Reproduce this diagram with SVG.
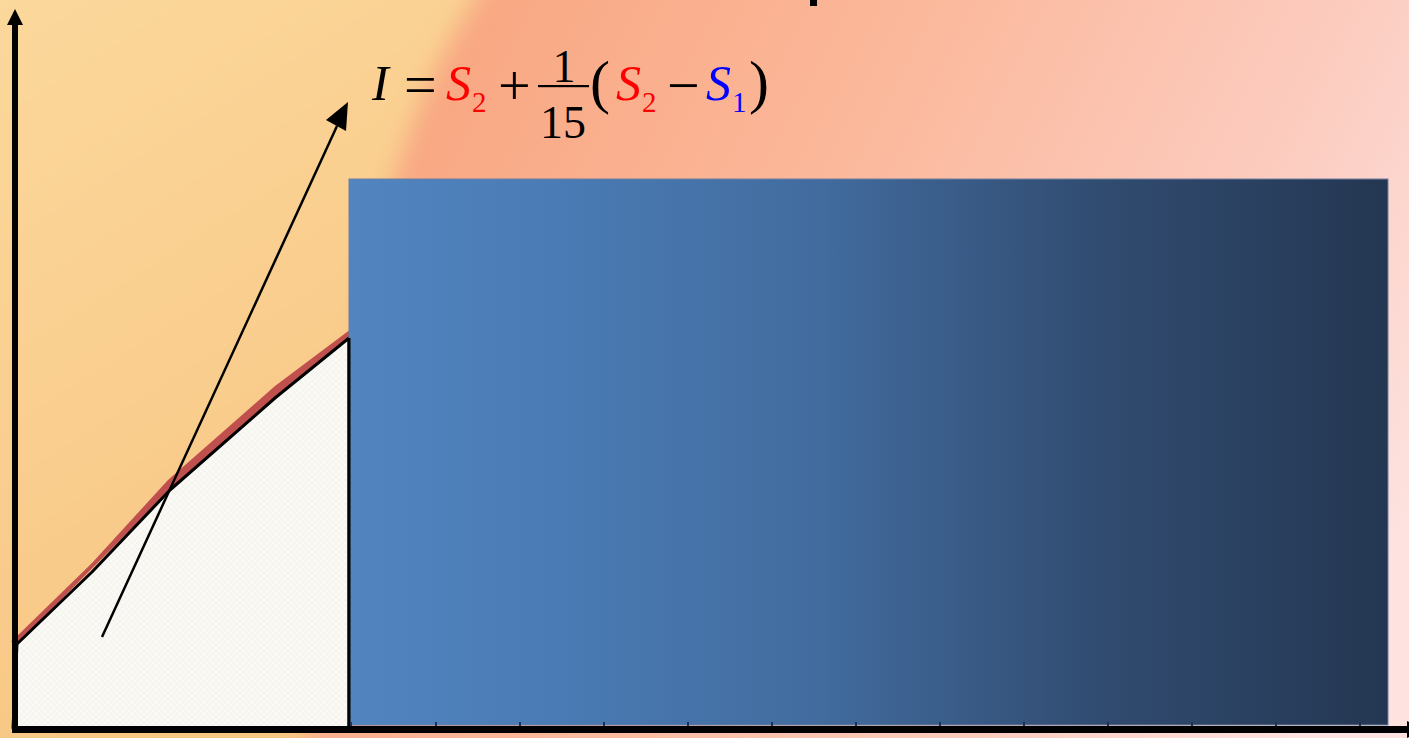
<svg xmlns="http://www.w3.org/2000/svg" width="1409" height="738" viewBox="0 0 1409 738">
<defs>
<linearGradient id="bg" gradientUnits="userSpaceOnUse" x1="380" y1="0" x2="1409" y2="520">
<stop offset="0" stop-color="#F8A47D"/>
<stop offset="0.4" stop-color="#FBB799"/>
<stop offset="0.75" stop-color="#FCCBBE"/>
<stop offset="1" stop-color="#FDE2DF"/>
</linearGradient>
<linearGradient id="org" gradientUnits="userSpaceOnUse" x1="0" y1="0" x2="380" y2="600">
<stop offset="0" stop-color="#FBD89C"/>
<stop offset="1" stop-color="#F8C683"/>
</linearGradient>
<linearGradient id="blue" gradientUnits="userSpaceOnUse" x1="349" y1="0" x2="1388" y2="0">
<stop offset="0" stop-color="#5284C0"/>
<stop offset="0.2" stop-color="#4A7BB4"/>
<stop offset="0.45" stop-color="#426C9F"/>
<stop offset="0.72" stop-color="#314C71"/>
<stop offset="1" stop-color="#243752"/>
</linearGradient>
<pattern id="dots" width="6" height="6" patternUnits="userSpaceOnUse">
<rect width="6" height="6" fill="#F6F5F0"/>
<path d="M0,0 L6,6 M6,0 L0,6" stroke="#FBFBF8" stroke-width="1"/>
</pattern>
<filter id="blur" x="-0.2" y="-0.2" width="1.4" height="1.4">
<feGaussianBlur stdDeviation="12"/>
</filter>
<style>
.ax{fill:#000}
.f{font-family:"Liberation Serif","Times New Roman",serif}
.it{font-style:italic}
.red{fill:#FF0000}
.bl{fill:#0000FF}
.k{fill:#000}
</style>
</defs>
<g id="background">
<rect width="1409" height="738" fill="url(#bg)"/>
<path d="M-40,-40 L495,-40 L475,0 C435,60 388,160 362,330 C350,450 330,600 300,780 L-40,780 Z" fill="url(#org)" filter="url(#blur)"/>
</g>
<g id="title-fragment">
<rect x="810" y="0" width="7" height="6" fill="#000"/>
</g>
<g id="area">
<path d="M13,640 L92,563 L168,480 L275,386 L351,329 L357,341 L349,341 L275,398 L170,490 L17,644 Z" fill="#C0504D"/>
<polygon points="13,728 17,644 92,572 170,490 275,398 349,338 349,728" fill="url(#dots)" stroke="#000" stroke-width="3" stroke-linejoin="round"/>
<polygon points="11,641 18,639 17,647" fill="#2E75B6"/>
</g>
<g id="blue-panel">
<rect x="349" y="179" width="1039" height="546" fill="url(#blue)" stroke="#6F80A0" stroke-width="1"/>
<line x1="349" y1="338" x2="349" y2="728" stroke="#000" stroke-width="3"/>
<g fill="#1F3050">
<rect x="350" y="722" width="2" height="4"/>
<rect x="435" y="722" width="2" height="4"/>
<rect x="519" y="722" width="2" height="4"/>
<rect x="603" y="722" width="2" height="4"/>
<rect x="687" y="722" width="2" height="4"/>
<rect x="771" y="722" width="2" height="4"/>
<rect x="855" y="722" width="2" height="4"/>
<rect x="939" y="722" width="2" height="4"/>
<rect x="1023" y="722" width="2" height="4"/>
<rect x="1107" y="722" width="2" height="4"/>
<rect x="1191" y="722" width="2" height="4"/>
<rect x="1275" y="722" width="2" height="4"/>
<rect x="1359" y="722" width="2" height="4"/>
</g>
</g>
<g id="axes">
<rect class="ax" x="12" y="24" width="6" height="709"/>
<polygon class="ax" points="15,9 7,25 23,25"/>
<rect class="ax" x="12" y="726" width="1400" height="7"/>
<polygon class="ax" points="1407,721 1407,738 1425,729.5"/>
</g>
<g id="connectors">
<line x1="102" y1="637" x2="337" y2="126" stroke="#000" stroke-width="2.5"/>
<polygon points="348,102 326,120 346,131" fill="#000"/>
</g>
<g id="formula" class="f">
<text x="372" y="100" font-size="50" class="it k">I</text>
<text x="404" y="104" font-size="58" class="k">=</text>
<text x="446" y="100" font-size="50" class="it red">S</text>
<text x="472" y="112" font-size="29" class="red">2</text>
<text x="498" y="105" font-size="58" class="k">+</text>
<text x="564" y="82" font-size="46" class="k" text-anchor="middle">1</text>
<rect x="538" y="85" width="51" height="2.2" fill="#000"/>
<text x="563" y="138" font-size="46" class="k" text-anchor="middle">15</text>
<text x="590" y="102" font-size="60" class="k">(</text>
<text x="616" y="100" font-size="50" class="it red">S</text>
<text x="642" y="112" font-size="29" class="red">2</text>
<text x="667" y="105" font-size="58" class="k">−</text>
<text x="706" y="100" font-size="50" class="it bl">S</text>
<text x="732" y="112" font-size="29" class="bl">1</text>
<text x="749" y="102" font-size="60" class="k">)</text>
</g>
</svg>
